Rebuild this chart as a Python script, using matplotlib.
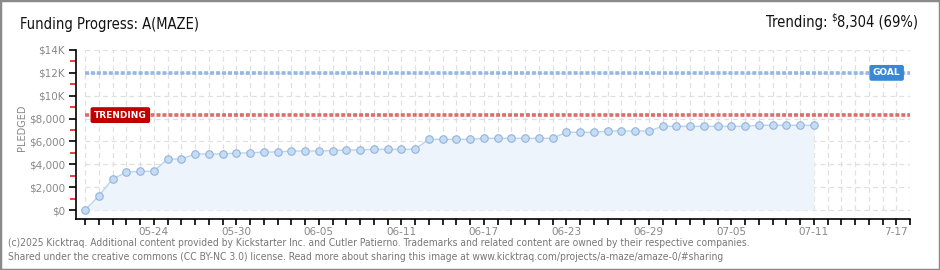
import matplotlib
matplotlib.use("Agg")
import matplotlib.pyplot as plt
import matplotlib.dates as mdates
from matplotlib.patches import Rectangle
import numpy as np
import pandas as pd

# ---------------- data ----------------
start_date = "2025-05-19"
pledged = [0, 1225, 2710, 3300, 3390, 3390, 4460, 4460, 4900, 4900,
           4900, 4990, 4990, 5075, 5075, 5160, 5160, 5160, 5200, 5250,
           5250, 5310, 5310, 5310, 5310, 6185, 6185, 6185, 6185, 6270,
           6270, 6270, 6270, 6270, 6270, 6800, 6800, 6800, 6910, 6910,
           6910, 6910, 7320, 7320, 7320, 7320, 7320, 7320, 7320, 7410,
           7410, 7410, 7410, 7410]
goal = 12000
trending = 8304
axis_days = 60
xtick_labels = ["05-24", "05-30", "06-05", "06-11", "06-17", "06-23",
                "06-29", "07-05", "07-11", "7-17"]
ytick_values = [0, 2000, 4000, 6000, 8000, 10000, 12000, 14000]
ytick_labels = ["$0", "$2,000", "$4,000", "$6,000", "$8,000", "$10K", "$12K", "$14K"]
title = "Funding Progress: A(MAZE)"
trend_text = "Trending:"
trend_value = "8,304 (69%)"
footer1 = ("(c)2025 Kicktraq. Additional content provided by Kickstarter Inc. and Cutler Patierno. "
           "Trademarks and related content are owned by their respective companies.")
footer2 = ("Shared under the creative commons (CC BY-NC 3.0) license. Read more about sharing this "
           "image at www.kicktraq.com/projects/a-maze/amaze-0/#sharing")

COND = dict(family="DejaVu Sans", stretch="condensed")

# ---------------- figure ----------------
fig = plt.figure(figsize=(9.4, 2.7), dpi=100)
fig.patch.set_facecolor("white")
fig.add_artist(Rectangle((0, 0), 1, 1, transform=fig.transFigure, fill=False,
                         edgecolor="#8a8a8a", linewidth=2.5))

ax = fig.add_axes([76 / 940, 51 / 270, (910 - 76) / 940, (219 - 50) / 270])

d0 = pd.Timestamp(start_date)
dates = pd.date_range(d0, periods=len(pledged), freq="D")
all_days = pd.date_range(d0, periods=axis_days + 1, freq="D")
x0 = mdates.date2num(d0)
x_end = mdates.date2num(all_days[-1])
px_day = (910 - 85.3) / axis_days
ax.set_xlim(x0 - 9 / px_day, x_end)
px_k = 160 / 14000
ax.set_ylim(-9 / px_k, 14000)

# grid
grid_c = "#e0e0e0"
ax.vlines(mdates.date2num(all_days), 0, 14000, colors=grid_c, linewidth=0.9,
          linestyles=(0, (4, 3)), zorder=0)
ax.hlines(ytick_values, x0, x_end, colors=grid_c, linewidth=0.9,
          linestyles=(0, (4, 3)), zorder=0)

# area + line
xn = mdates.date2num(dates)
ax.fill_between(xn, 0, pledged, color="#edf4fc", zorder=1, linewidth=0)
ax.plot(xn, pledged, color="#b9d4f0", linewidth=1.0, zorder=2)
ax.plot(xn, pledged, linestyle="none", marker="o", markersize=5.4,
        markerfacecolor="#c5dcf6", markeredgecolor="#95b3d8", markeredgewidth=0.8, zorder=3)

# goal & trending lines
ax.hlines(goal, x0, x_end, colors="#93b8e3", linewidth=2.6,
          linestyles=(0, (1.1, 0.55)), zorder=2)
ax.hlines(trending, x0, x_end, colors="#e26a6a", linewidth=2.6,
          linestyles=(0, (1.1, 0.55)), zorder=2)

ax.text(x0 + 0.65, trending, "TRENDING", color="white", fontsize=6.5, fontweight="bold",
        ha="left", va="center", zorder=5,
        bbox=dict(boxstyle="round,pad=0.3,rounding_size=0.15", facecolor="#c00000",
                  edgecolor="#c00000"))
ax.text(x0 + 57.3, goal, "GOAL", color="white", fontsize=6.5, fontweight="bold",
        ha="left", va="center", zorder=5,
        bbox=dict(boxstyle="round,pad=0.3,rounding_size=0.15", facecolor="#3a87d6",
                  edgecolor="#3a87d6"))

# axes styling
for s in ["top", "right"]:
    ax.spines[s].set_visible(False)
ax.spines["left"].set_color("black")
ax.spines["bottom"].set_color("black")
ax.spines["left"].set_linewidth(1.2)
ax.spines["bottom"].set_linewidth(1.2)

ax.set_yticks(ytick_values)
ax.set_yticklabels([l.replace("$", r"\$") for l in ytick_labels])
ax.set_yticks([v + 1000 for v in ytick_values[:-1]], minor=True)
ax.tick_params(axis="y", which="major", length=5, width=1.2, color="black",
               labelsize=7.5, labelcolor="#888888", pad=3)
ax.tick_params(axis="y", which="minor", length=4, width=1.2, color="#e02020")

label_positions = {mdates.date2num(pd.Timestamp("2025-" + (l if len(l) == 5 else "0" + l))): l
                   for l in xtick_labels}
tick_nums = mdates.date2num(all_days)
ax.set_xticks(tick_nums)
ax.set_xticklabels([label_positions.get(t, "") for t in tick_nums])
ax.tick_params(axis="x", which="major", length=4, width=1.2, color="black",
               labelsize=7.5, labelcolor="#888888", pad=2)

for t in ax.get_xticklabels() + ax.get_yticklabels():
    t.set_family("DejaVu Sans")

fig.text(22 / 940, 1 - 128 / 270, "PLEDGED", rotation=90, ha="center", va="center",
         fontsize=7, color="#888888")

# titles
fig.text(20 / 940, 1 - 24 / 270, title, ha="left", va="center", fontsize=10.5,
         color="#111111", **COND)
t_val = fig.text(918 / 940, 1 - 22 / 270, trend_value, ha="right", va="center",
                 fontsize=10.5, color="#111111", **COND)
fig.canvas.draw()
bb = t_val.get_window_extent()
t_dol = fig.text(bb.x0 / 940, 1 - 17 / 270, r"\$", ha="right", va="center", fontsize=7,
                 color="#111111", **COND)
fig.canvas.draw()
bb2 = t_dol.get_window_extent()
fig.text(bb2.x0 / 940 - 0.004, 1 - 22 / 270, trend_text, ha="right", va="center",
         fontsize=10.5, color="#111111", **COND)

# footer
fig.text(8 / 940, 1 - 243 / 270, footer1, ha="left", va="center", fontsize=7.35,
         color="#777777", **COND)
fig.text(8 / 940, 1 - 257 / 270, footer2, ha="left", va="center", fontsize=7.35,
         color="#777777", **COND)

fig.savefig("out.png", dpi=100, facecolor="white")
